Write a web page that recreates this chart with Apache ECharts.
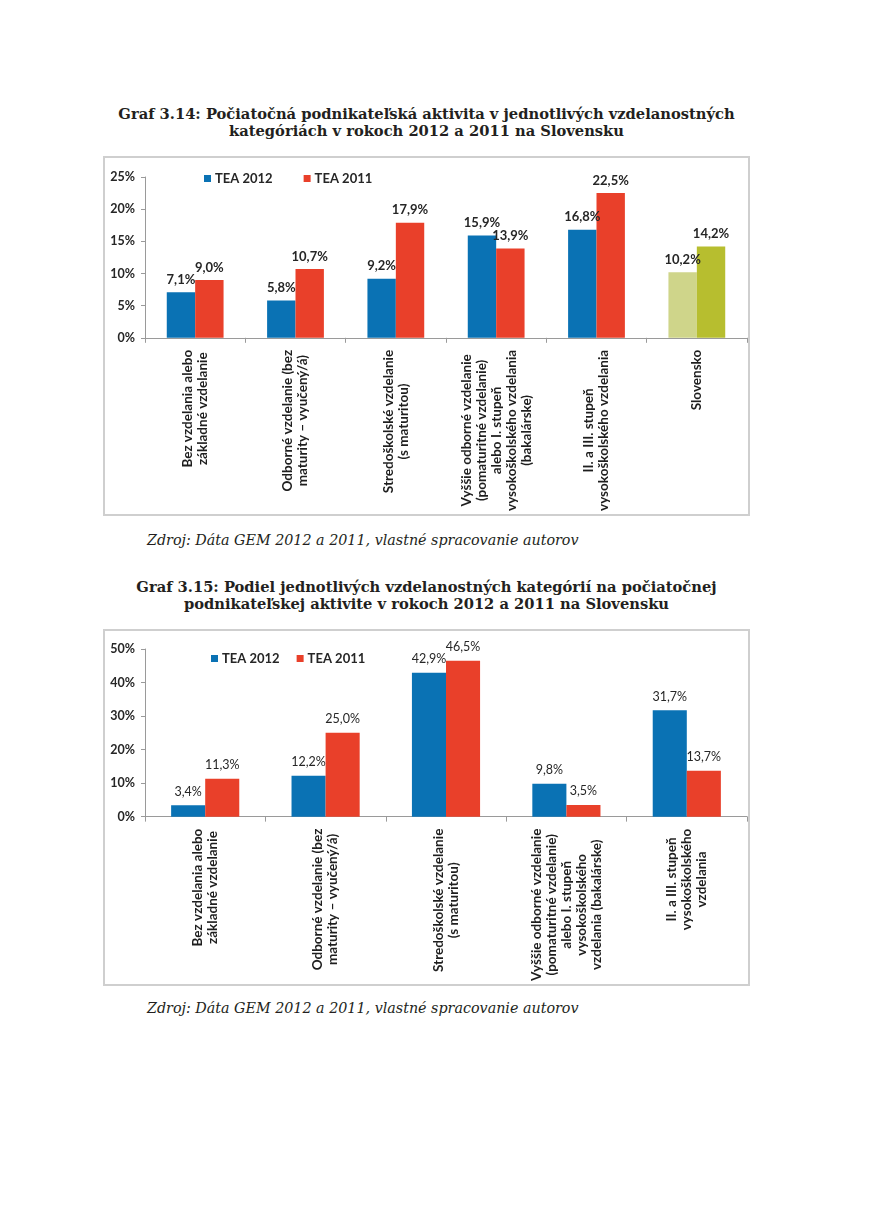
<!DOCTYPE html>
<html>
<head>
<meta charset="utf-8">
<script src="https://cdn.jsdelivr.net/npm/echarts@6/dist/echarts.min.js"></script>
<style>
  html, body { margin: 0; padding: 0; background: #fff; }
  body { width: 871px; height: 1231px; position: relative; overflow: hidden; }
  .title { position: absolute; left: 104px; width: 645px; text-align: center;
           font-family: "DejaVu Serif", serif; font-weight: bold; font-size: 14.7px;
           line-height: 17px; color: #231f20; white-space: nowrap; }
  .box { position: absolute; box-sizing: border-box; border: 2px solid #cfcfcf; background: #fff; }
  .chart { position: absolute; left: 0; top: 0; }
  .src { position: absolute; left: 147px; font-family: "DejaVu Serif", serif; font-style: italic;
         font-size: 14.3px; line-height: 18px; color: #231f20; white-space: nowrap; }
</style>
</head>
<body>
<div class="title" style="top:105px">Graf 3.14: Počiatočná podnikateľská aktivita v jednotlivých vzdelanostných<br>kategóriách v rokoch 2012 a 2011 na Slovensku</div>
<div class="box" style="left:103px; top:156px; width:647px; height:360px;"><div id="c1" class="chart" style="width:643px; height:356px;"></div></div>
<div class="src" style="top:531px">Zdroj: Dáta GEM 2012 a 2011, vlastné spracovanie autorov</div>

<div class="title" style="top:578px">Graf 3.15: Podiel jednotlivých vzdelanostných kategórií na počiatočnej<br>podnikateľskej aktivite v rokoch 2012 a 2011 na Slovensku</div>
<div class="box" style="left:103px; top:629px; width:647px; height:357px;"><div id="c2" class="chart" style="width:643px; height:353px;"></div></div>
<div class="src" style="top:999px">Zdroj: Dáta GEM 2012 a 2011, vlastné spracovanie autorov</div>

<script>
// ---------- Data ----------
const seriesNames = ['TEA 2012', 'TEA 2011'];

const categories1 = [
  'Bez vzdelania alebo\nzákladné vzdelanie',
  'Odborné vzdelanie (bez\nmaturity – vyučený/á)',
  'Stredoškolské vzdelanie\n(s maturitou)',
  'Vyššie odborné vzdelanie\n(pomaturitné vzdelanie)\nalebo I. stupeň\nvysokoškolského vzdelania\n(bakalárske)',
  'II. a III. stupeň\nvysokoškolského vzdelania',
  'Slovensko'
];
const tea2012_chart1 = [7.1, 5.8, 9.2, 15.9, 16.8, 10.2];
const tea2011_chart1 = [9.0, 10.7, 17.9, 13.9, 22.5, 14.2];
const yMax1 = 25, yStep1 = 5;

const categories2 = [
  'Bez vzdelania alebo\nzákladné vzdelanie',
  'Odborné vzdelanie (bez\nmaturity – vyučený/á)',
  'Stredoškolské vzdelanie\n(s maturitou)',
  'Vyššie odborné vzdelanie\n(pomaturitné vzdelanie)\nalebo I. stupeň\nvysokoškolského\nvzdelania (bakalárske)',
  'II. a III. stupeň\nvysokoškolského\nvzdelania'
];
const tea2012_chart2 = [3.4, 12.2, 42.9, 9.8, 31.7];
const tea2011_chart2 = [11.3, 25.0, 46.5, 3.5, 13.7];
const yMax2 = 50, yStep2 = 10;

const highlightCategory = 'Slovensko';

// ---------- Styles ----------
const BLUE = '#0a72b4', RED = '#e9402a';
const OLIVE_LIGHT = '#cfd58a', OLIVE = '#b7be2f';
const FONT = 'Lato, "Open Sans", sans-serif';
const TXT = '#262626';
const AXIS = '#9a9a9a';

function fmtPct(v) { return v.toFixed(1).replace('.', ',') + '%'; }

function buildData(cats, vals, hlColor) {
  return vals.map((v, i) => cats[i] === highlightCategory
    ? { value: v, itemStyle: { color: hlColor } }
    : v);
}

function makeOption(cats, a, b, yMax, yStep, cfg) {
  const labelStyle = {
    show: true, position: 'top', distance: cfg.labelDist,
    fontFamily: FONT, fontSize: cfg.labelSize, fontWeight: cfg.labelWeight, color: TXT,
    formatter: p => fmtPct(p.value)
  };
  return {
    animation: false,
    legend: {
      data: seriesNames, left: cfg.legendLeft, top: cfg.legendTop, padding: 0,
      itemWidth: 7, itemHeight: 7, itemGap: cfg.legendGap, icon: 'rect',
      textStyle: { fontFamily: FONT, fontSize: 13, fontWeight: 'bold', color: TXT, padding: [0, 0, 0, -1] }
    },
    grid: { left: 40, right: 1, top: cfg.gridTop, bottom: cfg.gridBottom, containLabel: false },
    xAxis: {
      type: 'category', data: cats,
      axisLine: { lineStyle: { color: AXIS, width: 1 } },
      axisTick: { show: true, length: 5, lineStyle: { color: AXIS } },
      axisLabel: {
        interval: 0, rotate: 90, margin: 12,
        formatter: v => v.split('\n').map(l => '{c|' + l + '}').join('\n'),
        rich: { c: { align: 'center', fontFamily: FONT, fontSize: 13.5, fontWeight: 'bold', color: '#1e1e1e', lineHeight: 15 } }
      }
    },
    yAxis: {
      type: 'value', min: 0, max: yMax, interval: yStep,
      splitLine: { show: false },
      axisLine: { show: true, lineStyle: { color: AXIS, width: 1 } },
      axisTick: { show: true, length: 4, lineStyle: { color: AXIS } },
      axisLabel: { margin: 10, formatter: '{value}%', fontFamily: FONT, fontSize: 12.5, fontWeight: 'bold', color: TXT }
    },
    series: [
      { name: seriesNames[0], type: 'bar', barWidth: '28.3%', barGap: '0%',
        itemStyle: { color: BLUE }, label: labelStyle, data: buildData(cats, a, OLIVE_LIGHT) },
      { name: seriesNames[1], type: 'bar', barWidth: '28.3%', barGap: '0%',
        itemStyle: { color: RED }, label: labelStyle, data: buildData(cats, b, OLIVE) }
    ]
  };
}

const c1 = echarts.init(document.getElementById('c1'), null, { renderer: 'canvas' });
c1.setOption(makeOption(categories1, tea2012_chart1, tea2011_chart1, yMax1, yStep1, {
  gridTop: 19, gridBottom: 175, legendLeft: 99, legendTop: 14, legendGap: 31,
  labelDist: 6, labelWeight: 'bold', labelSize: 13
}));

const c2 = echarts.init(document.getElementById('c2'), null, { renderer: 'canvas' });
c2.setOption(makeOption(categories2, tea2012_chart2, tea2011_chart2, yMax2, yStep2, {
  gridTop: 18, gridBottom: 166, legendLeft: 106, legendTop: 21, legendGap: 17,
  labelDist: 7, labelWeight: 'normal', labelSize: 12.5
}));
</script>
</body>
</html>
